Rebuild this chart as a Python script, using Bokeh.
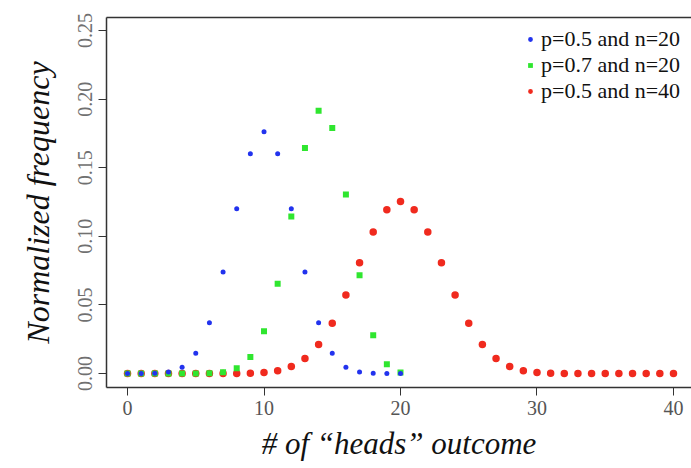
from bokeh.plotting import figure
from bokeh.models import Range1d, LinearAxis, Legend, LegendItem, FixedTicker
from bokeh.embed import file_html
from bokeh.resources import INLINE

# ---- data ----
x20 = list(range(0, 21))
x40 = list(range(0, 41))
p05_n20 = [0.0, 0.0, 0.0002, 0.0011, 0.0046, 0.0148, 0.037, 0.0739, 0.1201, 0.1602, 0.1762,
           0.1602, 0.1201, 0.0739, 0.037, 0.0148, 0.0046, 0.0011, 0.0002, 0.0, 0.0]
p07_n20 = [0.0, 0.0, 0.0, 0.0, 0.0, 0.0, 0.0002, 0.001, 0.0039, 0.012, 0.0308,
           0.0654, 0.1144, 0.1643, 0.1916, 0.1789, 0.1304, 0.0716, 0.0278, 0.0068, 0.0008]
p05_n40 = [0.0, 0.0, 0.0, 0.0, 0.0, 0.0, 0.0, 0.0, 0.0, 0.0002, 0.0008,
           0.0021, 0.0051, 0.011, 0.0211, 0.0366, 0.0572, 0.0807, 0.1031, 0.1194, 0.1254,
           0.1194, 0.1031, 0.0807, 0.0572, 0.0366, 0.0211, 0.011, 0.0051, 0.0021, 0.0008,
           0.0002, 0.0, 0.0, 0.0, 0.0, 0.0, 0.0, 0.0, 0.0, 0.0]
series_labels = ["p=0.5 and n=20", "p=0.7 and n=20", "p=0.5 and n=40"]
x_ticks = [0, 10, 20, 30, 40]
y_ticks = [0.0, 0.05, 0.10, 0.15, 0.20, 0.25]
y_tick_labels = {0.0: "0.00", 0.05: "0.05", 0.1: "0.10", 0.15: "0.15", 0.2: "0.20", 0.25: "0.25"}

FONT = "Liberation Serif"

p = figure(width=691, height=468, output_backend="svg", toolbar_location=None,
           x_range=Range1d(-1.54, 41.32), y_range=Range1d(-0.0102, 0.2595),
           min_border_left=106, min_border_top=17, min_border_bottom=81, min_border_right=0)
p.outline_line_color = None
p.grid.visible = False
p.background_fill_color = "white"
p.border_fill_color = "white"

r_red = p.scatter(x40, p05_n40, marker="circle", size=7.5, fill_color="#f02a1e", line_color=None)
r_green = p.scatter(x20, p07_n20, marker="square", size=6, fill_color="#2fe62f", line_color=None)
r_blue = p.scatter(x20, p05_n20, marker="circle", size=5, fill_color="#2233ee", line_color=None)

# axes
xa = p.xaxis[0]
xa.ticker = FixedTicker(ticks=x_ticks)
xa.minor_tick_line_color = None
xa.major_tick_out = 8
xa.major_tick_in = 0
xa.axis_line_color = "#333333"
xa.axis_line_width = 1.5
xa.major_tick_line_color = "#333333"
xa.major_label_text_font = FONT
xa.major_label_text_font_size = "20px"
xa.major_label_text_color = "#555555"
xa.major_label_standoff = 5
xa.axis_label = "# of \u201cheads\u201d outcome"
xa.axis_label_text_font = FONT
xa.axis_label_text_font_style = "italic"
xa.axis_label_text_font_size = "31px"
xa.axis_label_text_color = "#111111"
xa.axis_label_standoff = 8

ya = p.yaxis[0]
ya.ticker = FixedTicker(ticks=y_ticks)
ya.major_label_overrides = y_tick_labels
ya.minor_tick_line_color = None
ya.major_tick_out = 8
ya.major_tick_in = 0
ya.axis_line_color = "#333333"
ya.axis_line_width = 1.5
ya.major_tick_line_color = "#333333"
ya.major_label_orientation = "vertical"
ya.major_label_text_font = FONT
ya.major_label_text_font_size = "20px"
ya.major_label_text_color = "#707070"
ya.major_label_standoff = 6
ya.axis_label = "Normalized frequency"
ya.axis_label_text_font = FONT
ya.axis_label_text_font_style = "italic"
ya.axis_label_text_font_size = "32px"
ya.axis_label_text_color = "#111111"
ya.axis_label_standoff = 20

top = LinearAxis(ticker=FixedTicker(ticks=[]), major_label_text_font_size="0px",
                 axis_line_color="#333333", axis_line_width=1.5,
                 major_tick_line_color=None, minor_tick_line_color=None)
p.add_layout(top, "above")

legend = Legend(items=[LegendItem(label=series_labels[0], renderers=[r_blue]),
                       LegendItem(label=series_labels[1], renderers=[r_green]),
                       LegendItem(label=series_labels[2], renderers=[r_red])],
                location=(418, 283), orientation="vertical")
legend.label_text_font = FONT
legend.label_text_font_size = "22px"
legend.label_text_line_height = 0.9
legend.label_text_color = "#111111"
legend.glyph_width = 12
legend.glyph_height = 18
legend.label_height = 18
legend.label_standoff = 5
legend.spacing = 0
legend.padding = 0
legend.margin = 0
legend.border_line_color = None
legend.background_fill_alpha = 0
p.add_layout(legend)

open("out.html", "w").write(file_html(p, INLINE))
